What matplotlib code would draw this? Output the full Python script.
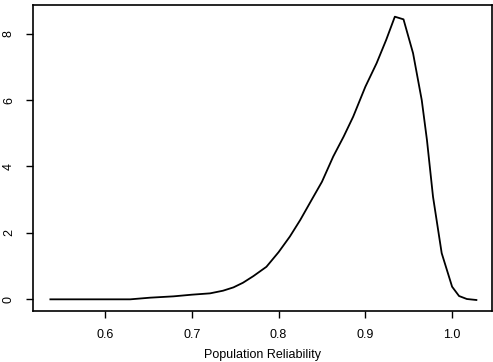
import matplotlib
matplotlib.use("Agg")
import matplotlib.pyplot as plt

plt.rcParams['font.family'] = ['Liberation Sans', 'DejaVu Sans']

# density curve
reliability = [0.537, 0.629, 0.652, 0.679, 0.700, 0.721, 0.736, 0.748, 0.759,
               0.771, 0.786, 0.800, 0.813, 0.825, 0.838, 0.850, 0.863, 0.875,
               0.886, 0.900, 0.913, 0.924, 0.934, 0.944, 0.955, 0.965, 0.971,
               0.978, 0.988, 1.000, 1.008, 1.017, 1.028]
density = [0.0, 0.0, 0.05, 0.09, 0.14, 0.18, 0.26, 0.36, 0.50,
           0.70, 0.98, 1.42, 1.89, 2.39, 2.99, 3.54, 4.30, 4.90,
           5.50, 6.40, 7.11, 7.81, 8.51, 8.43, 7.41, 6.00, 4.80,
           3.09, 1.39, 0.38, 0.10, 0.01, -0.02]

x_ticks = [0.6, 0.7, 0.8, 0.9, 1.0]
x_labels = ["0.6", "0.7", "0.8", "0.9", "1.0"]
y_ticks = [0, 2, 4, 6, 8]
y_labels = ["0", "2", "4", "6", "8"]

fig = plt.figure(figsize=(4.93, 3.62), dpi=100)
ax = fig.add_axes([0.067, 0.141, 0.931, 0.845])
ax.plot(reliability, density, color='black', linewidth=1.3)

ax.set_xlim(0.517, 1.046)
ax.set_ylim(-0.35, 8.86)
ax.set_xticks(x_ticks)
ax.set_xticklabels(x_labels, fontsize=9)
ax.set_yticks(y_ticks)
ax.set_yticklabels(y_labels, fontsize=9, rotation=90, va='center')
ax.tick_params(length=5, width=1, pad=8)
for s in ax.spines.values():
    s.set_linewidth(1.2)

ax.set_xlabel("Population Reliability", fontsize=9, labelpad=6)

fig.savefig("out.png", dpi=100)
